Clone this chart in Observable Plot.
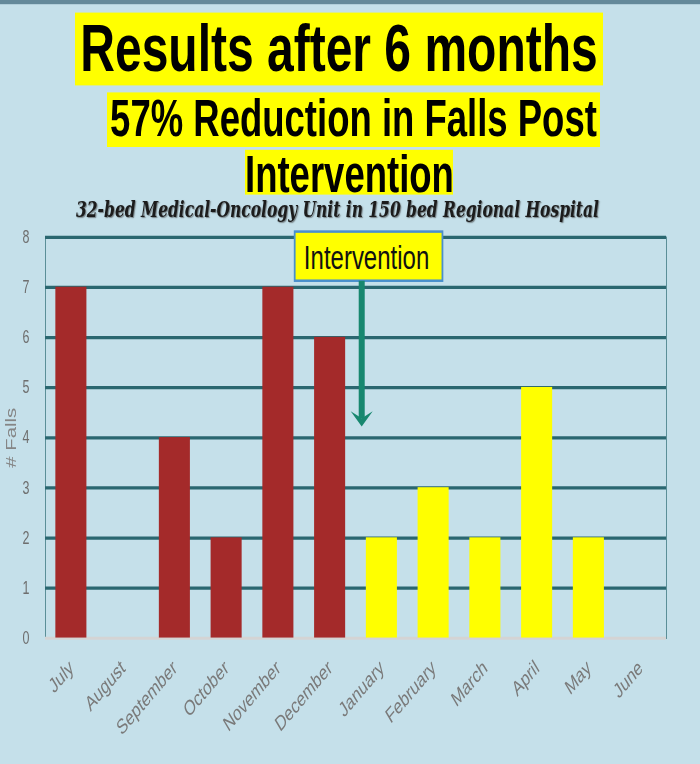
<!DOCTYPE html>
<html>
<head>
<meta charset="utf-8">
<script src="https://cdn.jsdelivr.net/npm/d3@7"></script>
<script src="https://cdn.jsdelivr.net/npm/@observablehq/plot@0.6"></script>
<style>
  html, body { margin: 0; padding: 0; background: #c5e0ea; width: 700px; height: 764px; overflow: hidden; }
  .stage { position: relative; width: 700px; height: 545.7px; transform: scale(1, 1.4); transform-origin: 0 0; }
  .topline { position: absolute; left: 0; top: 0; width: 700px; height: 3px; background: #64899a; }
  .hl { position: absolute; background: #ffff00; color: #000; font-family: "Liberation Sans", Arial, sans-serif; font-weight: bold; text-align: center; white-space: nowrap; }
  #title { left: 75px; top: 9.3px; width: 528px; height: 51.4px; line-height: 51.4px; font-size: 48px; }
  #sub1 { left: 107px; top: 66.4px; width: 493px; height: 38.6px; line-height: 38.6px; font-size: 36.5px; }
  #sub2 { left: 245px; top: 107px; width: 208px; height: 30px; padding-top: 2px; line-height: 32px; font-size: 36.5px; }
  #unit { position: absolute; left: 0; width: 675px; top: 141px; height: 17px; line-height: 17px; text-align: center; white-space: nowrap;
          font-family: "DejaVu Serif", "Liberation Serif", serif; font-style: italic; font-weight: bold; font-size: 15.5px; color: #1c1c1c;
          text-shadow: 1px 1px 1px rgba(60,60,60,0.6); }
  #chart { position: absolute; left: 0; top: 157px; }
</style>
</head>
<body>
<div class="stage">
  <div class="topline"></div>
  <div class="hl" id="title">Results after 6 months</div>
  <div class="hl" id="sub1">57% Reduction in Falls Post</div>
  <div class="hl" id="sub2">Intervention</div>
  <div id="unit">32-bed Medical-Oncology Unit in 150 bed Regional Hospital</div>
  <div id="chart"></div>
</div>
<script>
// ---- data ----
const months = ["July", "August", "September", "October", "November", "December",
                "January", "February", "March", "April", "May", "June"];
const falls = [7, 0, 4, 2, 7, 6, 2, 3, 2, 5, 2, 0];
const phase = ["Pre", "Pre", "Pre", "Pre", "Pre", "Pre",
               "Post", "Post", "Post", "Post", "Post", "Post"];
const phaseDomain = ["Pre", "Post"];
const phaseColors = ["#a42a2a", "#ffff00"];
const yTicks = [0, 1, 2, 3, 4, 5, 6, 7, 8];
const interventionLabel = "Intervention";
const interventionMonth = "January";

const data = months.map((m, i) => ({month: m, falls: falls[i], phase: phase[i]}));

// annotation: box + arrow positioned through the plot's scales
function interventionMark(index, scales) {
  const xs = scales.x, ys = scales.y;
  const step = xs.step ? xs.step() : 51.8;
  const x0 = xs(interventionMonth);
  const g = d3.create("svg:g");
  const left = x0 - 1.375 * step, right = x0 + 1.48 * step;
  const top = ys(8.1), bottom = ys(7.12);
  g.append("rect")
    .attr("x", left).attr("y", top)
    .attr("width", right - left).attr("height", bottom - top)
    .attr("fill", "#ffff00").attr("stroke", "#4a90cc").attr("stroke-width", 1.8);
  g.append("text")
    .attr("x", (left + right) / 2 - 2).attr("y", (top + bottom) / 2 + 1)
    .attr("text-anchor", "middle").attr("dominant-baseline", "central")
    .attr("font-size", 24).attr("fill", "#111")
    .text(interventionLabel);
  const ax = x0 - 0.08 * step;
  const y1 = ys(7.12), y2 = ys(4.21);
  g.append("rect")
    .attr("x", ax - 3).attr("y", y1)
    .attr("width", 6).attr("height", (y2 - 6) - y1)
    .attr("fill", "#17876f");
  g.append("path")
    .attr("d", `M${ax - 11},${y2 - 11} L${ax},${y2 - 6} L${ax + 11},${y2 - 11} L${ax},${y2} Z`)
    .attr("fill", "#17876f");
  return g.node();
}

const chart = Plot.plot({
  width: 700,
  height: 389,
  marginTop: 12,
  marginBottom: 90.6,
  marginLeft: 45,
  marginRight: 34,
  style: {background: "transparent", overflow: "visible", fontFamily: "'Liberation Sans', Arial, sans-serif"},
  x: {domain: months, paddingInner: 0.4, paddingOuter: 0.2, round: false, label: null},
  y: {domain: [0, 8], label: null},
  color: {domain: phaseDomain, range: phaseColors},
  marks: [
    Plot.frame({stroke: "#5b8f98", strokeWidth: 1}),
    Plot.ruleY(yTicks.filter(d => d > 0), {stroke: "#2a6770", strokeWidth: 2.3}),
    Plot.ruleY([0], {stroke: "#d4d4d4", strokeWidth: 2}),
    Plot.barY(data, {x: "month", y: "falls", fill: "phase"}),
    Plot.axisY({ticks: yTicks, tickSize: 0, tickPadding: 16, fontSize: 12.5, fill: "#6e6e6e", label: null}),
    Plot.axisX({tickRotate: -40, tickSize: 0, tickPadding: 19, fontSize: 15, fill: "#7a7a7a", label: null}),
    Plot.text(["# Falls"], {text: d => d, frameAnchor: "left", textAnchor: "middle", rotate: -90, dx: -34, fontSize: 14.5, fill: "#858585"}),
    interventionMark
  ]
});
document.getElementById("chart").appendChild(chart);
</script>
</body>
</html>
